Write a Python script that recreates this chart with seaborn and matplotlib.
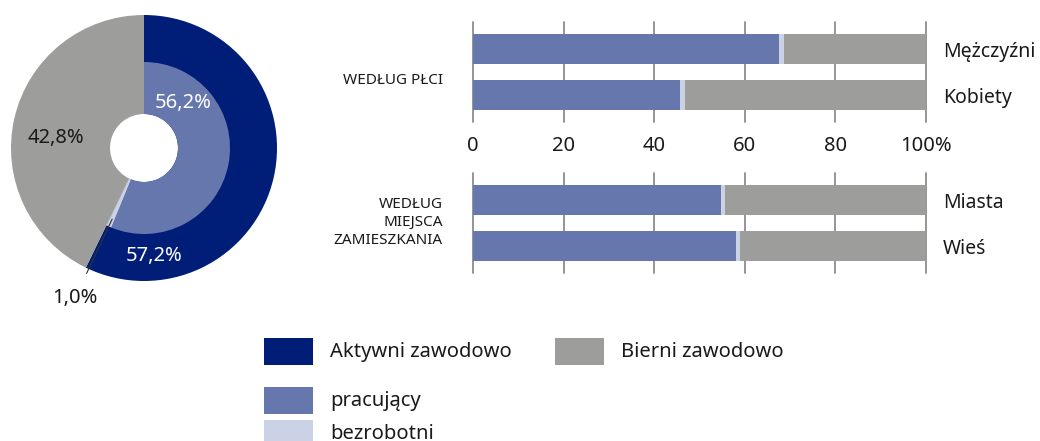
import numpy as np
import pandas as pd
import matplotlib
matplotlib.use("Agg")
import matplotlib.pyplot as plt
import matplotlib.patches as mpatches
import seaborn as sns

# ---------------- data ----------------
outer_labels = ["Aktywni zawodowo", "Bierni zawodowo"]
outer_values = [57.2, 42.8]
inner_labels = ["pracujący", "bezrobotni", "Bierni zawodowo"]
inner_values = [56.2, 1.0, 42.8]

sex_categories = ["Mężczyźni", "Kobiety"]
sex_pracujacy = [67.5, 45.8]
sex_bezrobotni = [1.2, 1.0]
sex_bierni = [31.3, 53.2]

place_categories = ["Miasta", "Wieś"]
place_pracujacy = [54.7, 58.1]
place_bezrobotni = [0.9, 0.8]
place_bierni = [44.4, 41.1]

tick_values = [0, 20, 40, 60, 80, 100]
tick_labels = ["0", "20", "40", "60", "80", "100%"]

group_label_sex = ["WEDŁUG PŁCI"]
group_label_place = ["WEDŁUG", "MIEJSCA", "ZAMIESZKANIA"]

# ---------------- style ----------------
C_DARK = "#001e78"
C_MED = "#6677ad"
C_LIGHT = "#ccd2e5"
C_GRAY = "#9d9d9c"
C_GRID = "#8c8c8c"
C_TEXT = "#1a1a1a"

sns.set_style("white")
plt.rcParams["font.family"] = ["Noto Sans", "DejaVu Sans"]
plt.rcParams["text.color"] = C_TEXT

W, H = 1040, 441
fig = plt.figure(figsize=(W / 100, H / 100), dpi=100)


def box(l, t, r, b):
    return [l / W, 1 - b / H, (r - l) / W, (b - t) / H]


# ---------------- donut ----------------
axp = fig.add_axes(box(9, 13, 279, 283))
R = 1.0
inner_r = 86 / 133
hole_r = 34 / 133
# outer ring drawn down to the hole, so the grey part is one seamless piece
axp.pie(outer_values, radius=R, startangle=90, counterclock=False,
        colors=[C_DARK, C_GRAY], wedgeprops=dict(width=R - hole_r, linewidth=0))
inner_wedges, _ = axp.pie(inner_values, radius=inner_r, startangle=90, counterclock=False,
                          colors=[C_MED, C_LIGHT, C_GRAY],
                          wedgeprops=dict(width=inner_r - hole_r, linewidth=0))
inner_wedges[2].set_visible(False)
lim = 135 / 133
axp.set_xlim(-lim, lim)
axp.set_ylim(-lim, lim)
axp.set_aspect("equal")
axp.axis("off")


def fmt(v):
    return f"{v:.1f}".replace(".", ",") + "%"


def polar(r_px, ang):
    a = np.deg2rad(ang)
    return r_px / 133 * np.cos(a), r_px / 133 * np.sin(a)


fs = 14.5
x, y = polar(59.5, 49)
axp.text(x, y, fmt(inner_values[0]), color="white", fontsize=fs, ha="center", va="center")
x, y = polar(108.5, -84.7)
axp.text(x, y, fmt(outer_values[0]), color="white", fontsize=fs, ha="center", va="center")
x, y = polar(88.5, 173.5)
axp.text(x, y, fmt(outer_values[1]), color=C_TEXT, fontsize=fs, ha="center", va="center")
# small slice annotation
mid = 90 - 360 * (inner_values[0] + inner_values[1] / 2) / 100
px, py = polar(78, mid)
axp.annotate(fmt(inner_values[1]), xy=(px, py), xytext=(-69 / 133, -150 / 133),
             fontsize=fs, ha="center", va="center", color=C_TEXT,
             arrowprops=dict(arrowstyle="-", color="#333333", lw=0.8,
                             shrinkA=9, shrinkB=0))


# ---------------- bars ----------------
def draw_bars(ax, cats, prac, bezr, bier, show_ticks):
    df = pd.DataFrame({"cat": cats, "prac": prac, "bezr": bezr, "bier": bier})
    df["total"] = df["prac"] + df["bezr"] + df["bier"]
    df["pb"] = df["prac"] + df["bezr"]
    bw = 30 / 46
    sns.barplot(data=df, x="total", y="cat", color=C_GRAY, orient="h", width=bw,
                ax=ax, linewidth=0, saturation=1)
    sns.barplot(data=df, x="pb", y="cat", color=C_LIGHT, orient="h", width=bw,
                ax=ax, linewidth=0, saturation=1)
    sns.barplot(data=df, x="prac", y="cat", color=C_MED, orient="h", width=bw,
                ax=ax, linewidth=0, saturation=1)
    ax.set_xlim(0, 100)
    ax.set_ylim(1 + 27 / 46, -27 / 46)
    ax.set_xlabel("")
    ax.set_ylabel("")
    for s in ax.spines.values():
        s.set_visible(False)
    ax.set_axisbelow(True)
    ax.set_xticks(tick_values)
    ax.xaxis.grid(True, color=C_GRID, linewidth=1.3)
    ax.yaxis.grid(False)
    for gl in ax.get_xgridlines():
        gl.set_clip_on(False)
    if show_ticks:
        ax.set_xticklabels(tick_labels)
    else:
        ax.set_xticklabels([])
    ax.tick_params(axis="x", length=0, pad=10, labelsize=fs, labelcolor=C_TEXT)
    ax.yaxis.tick_right()
    ax.tick_params(axis="y", length=0, pad=12, labelsize=14, labelcolor=C_TEXT)


ax1 = fig.add_axes(box(473, 22, 926, 122))
draw_bars(ax1, sex_categories, sex_pracujacy, sex_bezrobotni, sex_bierni, True)
ax2 = fig.add_axes(box(473, 173, 926, 273))
draw_bars(ax2, place_categories, place_pracujacy, place_bezrobotni, place_bierni, False)

fig.text(443 / W, 1 - 80.5 / H, group_label_sex[0], ha="right", va="center", fontsize=11)
for i, line in enumerate(group_label_place):
    fig.text(443 / W, 1 - (204 + 18.5 * i) / H, line, ha="right", va="center", fontsize=11)

# ---------------- legend ----------------
leg_items = [
    (264, 338, C_DARK, outer_labels[0]),
    (555, 338, C_GRAY, outer_labels[1]),
    (264, 387, C_MED, inner_labels[0]),
    (264, 420, C_LIGHT, inner_labels[1]),
]
for lx, ly, col, lab in leg_items:
    fig.add_artist(mpatches.Rectangle((lx / W, 1 - (ly + 27) / H), 49 / W, 27 / H,
                                      transform=fig.transFigure, color=col, lw=0))
    fig.text((lx + 66) / W, 1 - (ly + 14) / H, lab, ha="left", va="center", fontsize=fs)

fig.savefig("out.png", dpi=100)
